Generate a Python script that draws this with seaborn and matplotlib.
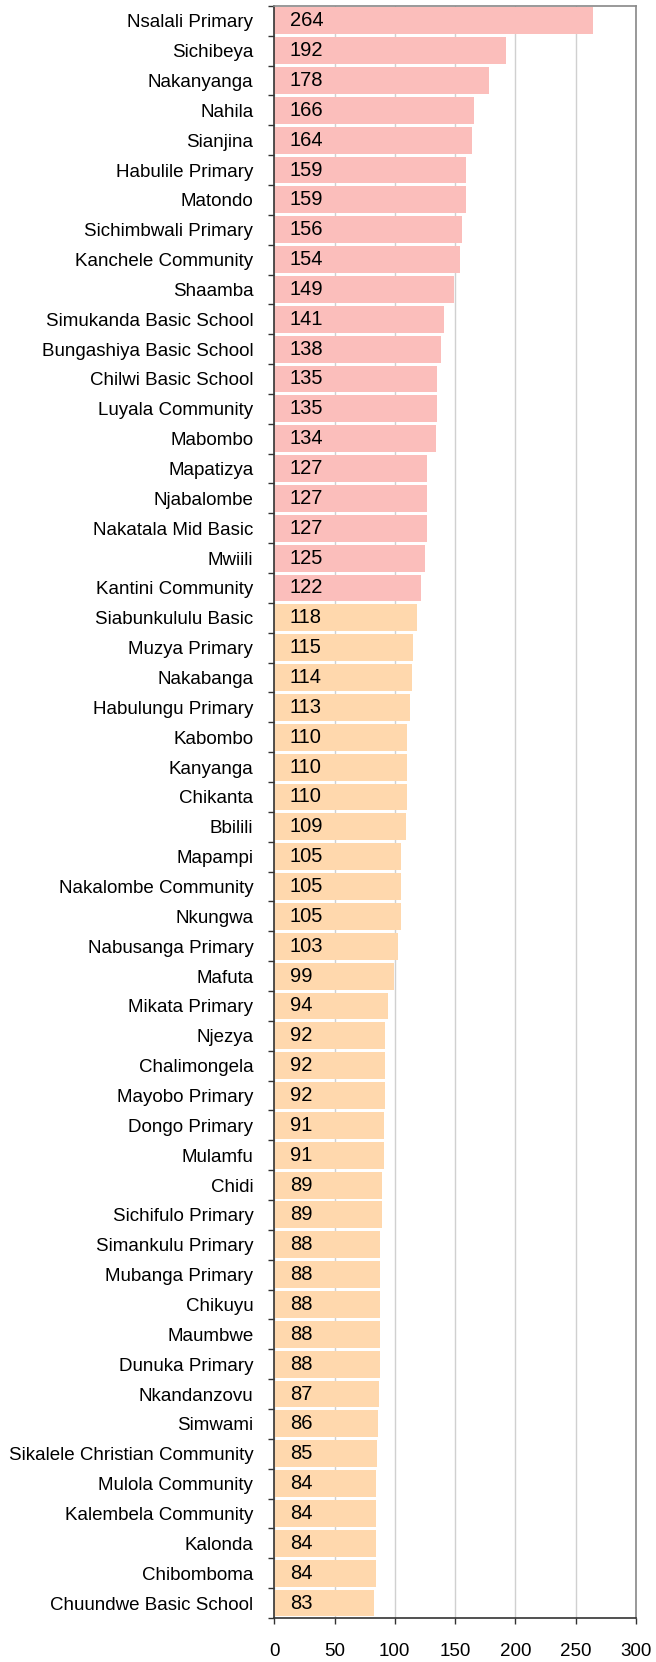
import numpy as np
import pandas as pd
import matplotlib
matplotlib.use("Agg")
import matplotlib.pyplot as plt
import seaborn as sns

# school names, top to bottom
schools = [
    "Nsalali Primary", "Sichibeya", "Nakanyanga", "Nahila", "Sianjina",
    "Habulile Primary", "Matondo", "Sichimbwali Primary", "Kanchele Community",
    "Shaamba", "Simukanda Basic School", "Bungashiya Basic School",
    "Chilwi Basic School", "Luyala Community", "Mabombo", "Mapatizya",
    "Njabalombe", "Nakatala Mid Basic", "Mwiili", "Kantini Community",
    "Siabunkululu Basic", "Muzya Primary", "Nakabanga", "Habulungu Primary",
    "Kabombo", "Kanyanga", "Chikanta", "Bbilili", "Mapampi",
    "Nakalombe Community", "Nkungwa", "Nabusanga Primary", "Mafuta",
    "Mikata Primary", "Njezya", "Chalimongela", "Mayobo Primary",
    "Dongo Primary", "Mulamfu", "Chidi", "Sichifulo Primary",
    "Simankulu Primary", "Mubanga Primary", "Chikuyu", "Maumbwe",
    "Dunuka Primary", "Nkandanzovu", "Simwami", "Sikalele Christian Community",
    "Mulola Community", "Kalembela Community", "Kalonda", "Chibomboma",
    "Chuundwe Basic School",
]
counts = [
    264, 192, 178, 166, 164, 159, 159, 156, 154, 149, 141, 138, 135, 135,
    134, 127, 127, 127, 125, 122, 118, 115, 114, 113, 110, 110, 110, 109,
    105, 105, 105, 103, 99, 94, 92, 92, 92, 91, 91, 89, 89, 88, 88, 88, 88,
    88, 87, 86, 85, 84, 84, 84, 84, 83,
]
groups = ["top"] * 20 + ["rest"] * 34
x_ticks = [0, 50, 100, 150, 200, 250, 300]

df = pd.DataFrame({"school": schools, "count": counts, "group": groups})
palette = {"top": "#FBBEBB", "rest": "#FFD8AD"}

sns.set_style("white")
plt.rcParams["font.family"] = ["Liberation Sans", "DejaVu Sans"]

fig = plt.figure(figsize=(6.56, 16.62), dpi=100)
ax = fig.add_axes([0.418, 0.0265, 0.5515, 0.97])

sns.barplot(data=df, x="count", y="school", hue="group", palette=palette,
            dodge=False, width=0.9, saturation=1, legend=False, ax=ax,
            zorder=2, linewidth=0)

for i, v in enumerate(counts):
    ax.text(13, i, str(v), va="center", ha="left", fontsize=14.5, color="black", zorder=3)

ax.set_xlim(0, 300)
ax.set_ylim(len(schools) - 0.5, -0.5)
ax.set_xticks(x_ticks)
ax.set_xticklabels([str(t) for t in x_ticks], fontsize=13.5, color="black")
ax.tick_params(axis="x", length=4, width=1, color="#333333", pad=14, direction="out", bottom=True)
ax.tick_params(axis="y", which="major", length=0, labelsize=13.5, pad=15, labelcolor="black")
ax.set_yticks(np.arange(len(schools) + 1) - 0.5, minor=True)
ax.tick_params(axis="y", which="minor", length=4, width=1, color="#333333", left=True)
ax.set_xlabel("")
ax.set_ylabel("")
ax.grid(axis="x", color="#D0D0D0", linewidth=1, zorder=0)
ax.set_axisbelow(True)

for side in ["left", "bottom"]:
    ax.spines[side].set_color("#333333")
    ax.spines[side].set_linewidth(1.2)
for side in ["top", "right"]:
    ax.spines[side].set_color("#888888")
    ax.spines[side].set_linewidth(1.2)

fig.savefig("out.png", dpi=100)
